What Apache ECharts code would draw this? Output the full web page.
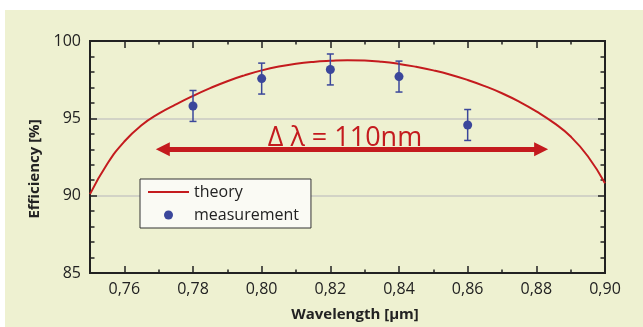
<!DOCTYPE html>
<html>
<head>
<meta charset="utf-8">
<script src="https://cdn.jsdelivr.net/npm/echarts@6/dist/echarts.min.js"></script>
<style>
html,body{margin:0;padding:0;background:#ffffff;}
#bg{position:absolute;left:5px;top:10px;width:638px;height:317px;background:#eef1d1;}
#chart{position:absolute;left:0;top:0;width:643px;height:327px;}
</style>
</head>
<body>
<div id="bg"></div>
<div id="chart"></div>
<script>
// ---- data ----
const theoryX = [0.750,0.755,0.760,0.765,0.770,0.775,0.780,0.785,0.790,0.795,0.800,0.805,0.810,0.815,0.820,0.825,0.830,0.835,0.840,0.845,0.850,0.855,0.860,0.865,0.870,0.875,0.880,0.885,0.890,0.895,0.900];
const theoryY = [90.1,92.05,93.5,94.55,95.3,95.9,96.45,96.95,97.4,97.78,98.1,98.35,98.53,98.65,98.72,98.76,98.74,98.66,98.52,98.33,98.1,97.82,97.48,97.08,96.62,96.08,95.45,94.72,93.82,92.55,90.8];
const measX = [0.78,0.80,0.82,0.84,0.86];
const measY = [95.8,97.57,98.16,97.7,94.57];
const measErr = [1.0,1.0,1.0,1.0,1.0];
const xMajorTicks = [0.76,0.78,0.80,0.82,0.84,0.86,0.88,0.90];
const yTicks = [85,90,95,100];
const arrowX = [0.7712,0.8814];   // double arrow ends (Δλ range)
const arrowY = 93;
const annotation = 'Δ λ = 110nm';
const legendNames = ['theory','measurement'];

const FONT = '"Open Sans", "Noto Sans", sans-serif';
const RED = '#c41b1e';
const BLUE = '#3b479b';
const AX = '#222222';

const chart = echarts.init(document.getElementById('chart'), null, {renderer:'canvas'});

const fmtX = v => Number(v).toFixed(2).replace('.', ',');

function xAxisDef(pos, major, labels) {
  return {
    type:'value', position:pos, min:0.75, max:0.90,
    interval: major ? undefined : 0.01,
    axisLine:{show:true, onZero:false, lineStyle:{color:AX, width:2}},
    axisTick: major
      ? {show:true, inside:true, length:7, lineStyle:{color:AX, width:1.5}, customValues: xMajorTicks}
      : {show:true, inside:true, length:3.5, lineStyle:{color:AX, width:1.5}},
    axisLabel: labels
      ? {show:true, margin:8, color:AX, fontSize:16, fontFamily:FONT, customValues:xMajorTicks, formatter: fmtX}
      : {show:false},
    splitLine:{show:false},
    name: labels ? 'Wavelength [µm]' : '',
    nameLocation:'middle', nameGap:34,
    nameTextStyle:{fontSize:15, fontWeight:'bold', color:AX, fontFamily:FONT, padding:[0,0,0,15]},
    silent:true
  };
}

function yAxisDef(pos, labels) {
  return {
    type:'value', position:pos, min:85, max:100, interval:5,
    axisLine:{show:true, onZero:false, lineStyle:{color:AX, width:2}},
    axisTick:{show:true, inside:true, length:7, lineStyle:{color:AX, width:1.5}},
    minorTick:{show:true, splitNumber:5, length:4.5, lineStyle:{color:AX, width:1.5}},
    axisLabel: labels ? {show:true, margin:9, color:AX, fontSize:16, fontFamily:FONT} : {show:false},
    splitLine:{show: labels, lineStyle:{color:'#c9c9c2', width:1.5}},
    name: labels ? 'Efficiency [%]' : '',
    nameLocation:'middle', nameGap:42,
    nameTextStyle:{fontSize:15, fontWeight:'bold', color:AX, fontFamily:FONT, padding:[0,24,0,0]},
    silent:true
  };
}

const errData = measX.map((x,i)=>[x, measY[i], measErr[i]]);

chart.setOption({
  animation:false,
  backgroundColor:'transparent',
  grid:{left:90, right:38, top:41, bottom:51, containLabel:false},
  xAxis:[xAxisDef('bottom', true, true), xAxisDef('bottom', false, false),
         xAxisDef('top', true, false), xAxisDef('top', false, false)],
  yAxis:[yAxisDef('left', true), yAxisDef('right', false)],
  legend:{
    show:true, orient:'vertical', left:140, top:179,
    data:[{name:legendNames[0], itemStyle:{opacity:0}, lineStyle:{width:2, color:RED}},
          {name:legendNames[1], icon:'circle'}],
    backgroundColor:'#fafaf4', borderColor:'#333', borderWidth:1,
    padding:[5,12,5,7], itemGap:7, itemWidth:41, itemHeight:9,
    textStyle:{fontSize:16, color:AX, fontFamily:FONT},
    selectedMode:false
  },
  series:[
    {
      name:legendNames[0], type:'line', smooth:true, symbol:'none',
      xAxisIndex:0, yAxisIndex:0,
      data: theoryX.map((x,i)=>[x, theoryY[i]]),
      lineStyle:{color:RED, width:2}, itemStyle:{color:RED},
      z:3,
      markLine:{
        silent:true, symbol:['triangle','triangle'], symbolSize:[14,14],
        lineStyle:{color:RED, width:5, type:'solid'},
        label:{show:true, position:'middle', formatter:annotation, color:RED,
               fontSize:27, fontFamily:FONT, distance:-3, padding:[0,14,0,0]},
        emphasis:{disabled:true},
        data:[[{coord:[arrowX[0], arrowY]},{coord:[arrowX[1], arrowY]}]]
      }
    },
    {
      name:'errorbars', type:'custom', xAxisIndex:0, yAxisIndex:0, z:4,
      data: errData,
      renderItem:function(params, api){
        const x = api.value(0), y = api.value(1), e = api.value(2);
        const top = api.coord([x, y+e]);
        const bot = api.coord([x, y-e]);
        const hw = 3.5;
        const st = {stroke:BLUE, lineWidth:1.5};
        return {type:'group', children:[
          {type:'line', shape:{x1:top[0], y1:top[1], x2:bot[0], y2:bot[1]}, style:st},
          {type:'line', shape:{x1:top[0]-hw, y1:top[1], x2:top[0]+hw, y2:top[1]}, style:st},
          {type:'line', shape:{x1:bot[0]-hw, y1:bot[1], x2:bot[0]+hw, y2:bot[1]}, style:st}
        ]};
      },
      silent:true
    },
    {
      name:legendNames[1], type:'scatter', xAxisIndex:0, yAxisIndex:0, z:5,
      symbol:'circle', symbolSize:9,
      data: measX.map((x,i)=>[x, measY[i]]),
      itemStyle:{color:BLUE, opacity:1}
    }
  ]
});
</script>
</body>
</html>
